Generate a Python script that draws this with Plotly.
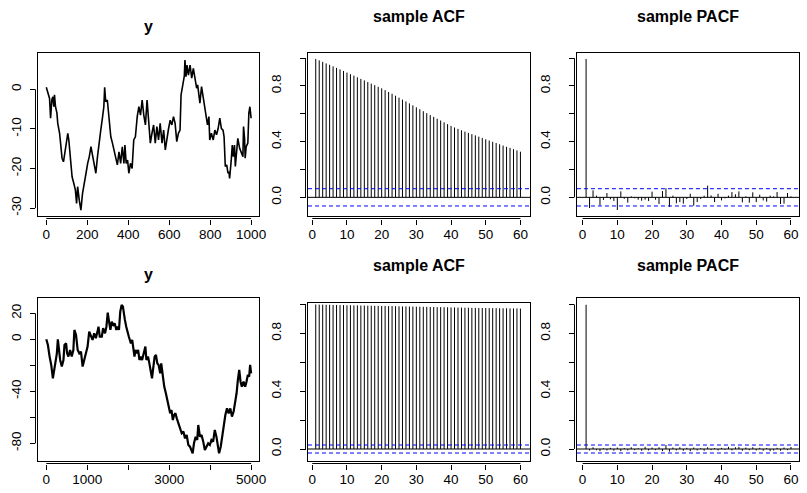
import plotly.graph_objects as go

# ---------------- data ----------------
t1 = [0,8,16,21,27,32,37,40,45,52,
      56,65,73,77,84,90,97,105,110,116,
      126,132,142,148,153,161,169,177,185,194,
      202,210,218,226,234,242,250,258,266,274,
      281,285,290,298,306,315,323,331,339,347,
      355,363,371,379,384,390,397,403,411,419,
      427,435,444,452,460,468,476,484,492,500,
      508,516,524,532,540,548,556,565,573,581,
      589,597,605,613,621,629,637,645,653,658,
      665,669,674,677,682,687,694,702,710,718,
      726,734,739,745,750,758,766,774,782,787,
      794,798,806,815,823,831,839,847,855,863,
      868,874,881,887,892,895,903,908,913,919,
      923,929,935,944,952,960,963,968,971,976,
      984,989,994,1000]
y1 = [0.5,-1,-2.3,-7.3,-2.7,-1.9,-4.4,-1.4,-4.4,-6,
      -8.6,-11.1,-14.5,-17.4,-18.3,-16.2,-12.8,-11.1,-12.8,-17,
      -22.1,-23.3,-25.4,-28.8,-24.6,-28,-30.5,-26.3,-23.3,-21.2,
      -18.7,-17,-14.5,-16.6,-19.5,-21.2,-17,-12.8,-10.3,-7.3,
      -4.4,0.5,-3.1,-2.7,-6.5,-12,-13.6,-15.3,-17,-19.1,
      -15.8,-18.7,-14.5,-18.7,-14.1,-18.7,-17.9,-21.2,-18.7,-20,
      -12.8,-12,-6.9,-4.4,-6.5,-2.7,-6.5,-9,-2.7,-8.6,
      -13.6,-11.1,-9,-13.6,-9.4,-12.8,-8.6,-13.6,-10.3,-15.3,
      -12,-9.9,-7.8,-9,-6.9,-8.6,-13.2,-11.1,-10.3,-1.4,
      0.7,2.4,3.4,7.4,3.2,6.1,3.6,6.1,2.8,5.3,
      2.4,0.3,1.1,-1.9,-3.5,0.7,-2.3,-5.2,-8.2,-9,
      -6.9,-12.8,-11.1,-12.8,-10.3,-11.5,-9.9,-7.3,-9.9,-10.3,
      -12,-19.5,-19.1,-21.2,-20.8,-22.5,-17.9,-14.1,-17,-14.1,
      -19.5,-16.2,-12.4,-14.9,-16.2,-17,-9.4,-12.4,-17.4,-14.5,
      -13.6,-6,-4.4,-7.3]

t2 = [0,40,81,121,161,185,218,258,282,306,
      339,379,419,444,484,508,540,581,621,661,
      686,726,766,806,847,887,927,968,1008,1048,
      1089,1129,1169,1210,1250,1274,1306,1355,1387,1435,
      1468,1500,1532,1565,1597,1637,1669,1710,1742,1774,
      1806,1839,1871,1895,1919,1952,1984,2016,2040,2065,
      2097,2129,2153,2177,2210,2242,2274,2306,2339,2379,
      2419,2444,2484,2516,2548,2581,2605,2645,2677,2710,
      2742,2782,2806,2839,2879,2919,2960,2992,3024,3056,
      3089,3121,3153,3186,3226,3266,3306,3347,3387,3427,
      3468,3508,3548,3573,3605,3645,3685,3710,3750,3790,
      3831,3871,3911,3952,3992,4032,4073,4113,4153,4194,
      4218,4258,4298,4339,4371,4411,4452,4492,4532,4573,
      4613,4645,4677,4710,4742,4774,4815,4855,4887,4919,
      4952,4976,5000]
y2 = [0,-4.4,-13.3,-19.7,-30,-24.9,-18.5,-10.8,0,-8.2,
      -15.9,-21,-15.9,-4.4,-3.1,-10.8,-13.3,-8.2,-13.3,-8.2,
      7.2,3.3,-8.2,-10.8,-9.5,-21,-15.9,-10.8,-5.6,5.9,
      3.3,-0.5,4.6,0.8,5.9,9.7,2,2,8.5,4.6,
      9.7,20.5,13.6,7.2,13.6,11,12.3,7.2,9.7,7.2,
      21.3,26.4,25.1,18.7,14.9,9.7,4.6,2,-0.5,-3.1,
      -0.5,-8.2,-13.3,-8.2,-10.8,-8.2,-15.9,-13.3,-15.9,-10.8,
      -5.6,-15.9,-13.3,-18.5,-26.2,-30,-23.6,-13.3,-12,-18.5,
      -19.7,-26.2,-18.5,-27.4,-36.4,-41.5,-46.7,-51.8,-56.9,-54.4,
      -62.1,-58.2,-56.9,-60.8,-64.6,-67.2,-72.3,-71,-76.2,-73.6,
      -81.3,-82.6,-85.1,-87.7,-80,-74.9,-77.4,-65.9,-74.9,-73.6,
      -78.7,-85.1,-82.6,-80,-81.3,-77.4,-78.7,-69.7,-74.9,-85.1,
      -87.7,-82.6,-73.6,-67.2,-58.2,-53.1,-56.9,-53.1,-59.5,-55.6,
      -49.2,-41.5,-31.3,-23.6,-32.6,-36.4,-32.6,-36.4,-32.6,-27.4,
      -28.7,-19.7,-26.2]

lags = list(range(1, 61))
acf1 = [0.994,0.984,0.973,0.962,0.952,0.941,0.930,0.919,0.908,0.896,
        0.885,0.874,0.862,0.851,0.840,0.828,0.817,0.806,0.794,0.783,
        0.770,0.757,0.744,0.730,0.716,0.702,0.689,0.675,0.661,0.647,
        0.633,0.619,0.605,0.591,0.578,0.565,0.552,0.539,0.526,0.513,
        0.502,0.492,0.482,0.472,0.463,0.454,0.445,0.436,0.427,0.417,
        0.408,0.399,0.390,0.381,0.372,0.363,0.355,0.346,0.337,0.328]
pacf1 = [0.994,-0.077,0.05,0.012,-0.057,-0.019,0.031,-0.014,-0.026,-0.091,
         0.043,-0.01,-0.038,0.007,-0.007,-0.017,-0.024,-0.017,-0.026,0.041,
         -0.017,-0.048,0.045,0.065,-0.069,0.012,-0.043,-0.034,-0.045,-0.012,
         0.026,-0.06,-0.034,-0.012,0.012,0.084,0.014,-0.034,0.026,-0.022,
         -0.007,0.012,0.038,0.022,0.043,-0.036,0.007,-0.038,0.036,-0.034,
         0.019,-0.022,-0.031,0.012,0.007,0.038,-0.048,-0.045,0.031,0.007]
acf2 = [0.999,0.998,0.998,0.997,0.997,0.996,0.996,0.995,0.995,0.994,
        0.994,0.993,0.993,0.992,0.992,0.991,0.991,0.990,0.990,0.989,
        0.989,0.988,0.988,0.987,0.987,0.986,0.986,0.985,0.985,0.984,
        0.984,0.983,0.983,0.982,0.982,0.981,0.981,0.980,0.980,0.979,
        0.979,0.978,0.978,0.977,0.977,0.976,0.976,0.975,0.975,0.975,
        0.974,0.974,0.974,0.973,0.973,0.973,0.972,0.972,0.972,0.971]
pacf2 = [0.998,-0.01,0.012,-0.008,-0.015,0.005,-0.01,0.008,-0.012,0.01,
         -0.015,0.006,-0.01,0.012,-0.008,0.005,-0.012,0.015,-0.01,0.01,
         -0.008,0.012,-0.015,0.028,-0.018,0.01,-0.01,0.012,-0.012,0.008,
         -0.015,0.01,-0.01,0.005,-0.012,0.012,-0.008,0.006,-0.01,0.008,
         -0.006,0.015,-0.01,0.012,0.015,-0.012,0.01,-0.008,0.012,-0.01,
         0.008,-0.012,0.006,-0.015,-0.01,0.008,-0.012,0.01,-0.008,0.014]
ci1 = 0.062
ci2 = 0.0277

titles = ["y", "sample ACF", "sample PACF", "y", "sample ACF", "sample PACF"]

lag_ticks = [0, 10, 20, 30, 40, 50, 60]
cor_ticks = [0.0, 0.2, 0.4, 0.6, 0.8, 1.0]
cor_text = ["0.0", "", "0.4", "", "0.8", ""]
x1_ticks = [0, 200, 400, 600, 800, 1000]
y1_ticks = [-30, -20, -10, 0]
x2_ticks = [0, 1000, 2000, 3000, 4000, 5000]
x2_text = ["0", "1000", "", "3000", "", "5000"]
y2_ticks = [-80, -60, -40, -20, 0, 20]
y2_text = ["-80", "", "-40", "", "0", "20"]

# ---------------- layout geometry (pixels) ----------------
W, H = 807, 493
FONT = "Liberation Sans, Arial, Helvetica, sans-serif"
panels = [
    dict(x0=38.3, x1=261.7, y0=52.7, y1=216, xr=[-40.6, 1040.6], yr=[-32.0, 9.25],
         xt=x1_ticks, xtt=[str(v) for v in x1_ticks], yt=y1_ticks, ytt=[str(v) for v in y1_ticks],
         ty=27, ys=4),
    dict(x0=310.7, x1=535, y0=52.7, y1=216, xr=[-1.23, 62.86], yr=[-0.134, 1.039],
         xt=lag_ticks, xtt=[str(v) for v in lag_ticks], yt=cor_ticks, ytt=cor_text, ty=16.7, ys=14),
    dict(x0=582, x1=806.3, y0=52.7, y1=216, xr=[-1.63, 62.4], yr=[-0.134, 1.039],
         xt=lag_ticks, xtt=[str(v) for v in lag_ticks], yt=cor_ticks, ytt=cor_text, ty=16.7, ys=14),
    dict(x0=38.3, x1=261.7, y0=297.7, y1=461, xr=[-203, 5203], yr=[-93.6, 32.0],
         xt=x2_ticks, xtt=x2_text, yt=y2_ticks, ytt=y2_text, ty=274, ys=4),
    dict(x0=310.7, x1=535, y0=303.3, y1=461, xr=[-1.23, 62.86], yr=[-0.083, 1.0075],
         xt=lag_ticks, xtt=[str(v) for v in lag_ticks], yt=cor_ticks, ytt=cor_text, ty=265.5, ys=14),
    dict(x0=582, x1=806.3, y0=297.7, y1=461, xr=[-1.63, 62.4], yr=[-0.083, 1.047],
         xt=lag_ticks, xtt=[str(v) for v in lag_ticks], yt=cor_ticks, ytt=cor_text, ty=265.5, ys=14),
]
GAP = 2.5

fig = go.Figure()


def sid(i):
    return "" if i == 1 else str(i)


def stems(lg, vals):
    xs, ys = [], []
    for l, v in zip(lg, vals):
        xs += [l, l, None]
        ys += [0, v, None]
    return xs, ys


# series
fig.add_trace(go.Scatter(x=t1, y=y1, mode="lines", line=dict(color="black", width=1.6),
                         xaxis="x", yaxis="y", hoverinfo="skip", showlegend=False))
fig.add_trace(go.Scatter(x=t2, y=y2, mode="lines", line=dict(color="black", width=2.2),
                         xaxis="x4", yaxis="y4", hoverinfo="skip", showlegend=False))
for i, vals in [(2, acf1), (3, pacf1), (5, acf2), (6, pacf2)]:
    xs, ys = stems(lags, vals)
    fig.add_trace(go.Scatter(x=xs, y=ys, mode="lines", line=dict(color="black", width=1),
                             xaxis="x" + str(i), yaxis="y" + str(i), hoverinfo="skip",
                             showlegend=False))
# empty traces that register the R-style tick axes as subplots
for i in range(1, 7):
    j = str(i + 6)
    fig.add_trace(go.Scatter(x=[], y=[], mode="lines", xaxis="x" + j, yaxis="y" + j,
                             hoverinfo="skip", showlegend=False))

shapes = []
annotations = []
layout = dict(width=W, height=H, margin=dict(l=0, r=0, t=0, b=0),
              paper_bgcolor="white", plot_bgcolor="white", showlegend=False,
              font=dict(family=FONT, color="black", size=13.5))

for i, p in enumerate(panels, start=1):
    k = sid(i)
    xd = [p["x0"] / W, p["x1"] / W]
    yd = [1 - p["y1"] / H, 1 - p["y0"] / H]
    base = dict(showline=True, mirror=True, linecolor="black", linewidth=1, ticks="",
                showticklabels=False, showgrid=False, zeroline=False, fixedrange=True)
    layout["xaxis" + k] = dict(domain=xd, range=p["xr"], anchor="y" + k, **base)
    layout["yaxis" + k] = dict(domain=yd, range=p["yr"], anchor="x" + k, **base)
    j = str(i + 6)
    xpos = 1 - (p["y1"] + GAP) / H
    ypos = (p["x0"] - GAP) / W
    tick = dict(ticks="outside", ticklen=5.5, tickwidth=1, tickcolor="black",
                showline=False, showgrid=False, zeroline=False, fixedrange=True,
                showticklabels=True, tickfont=dict(family=FONT, size=13.5, color="black"))
    layout["xaxis" + j] = dict(overlaying="x" + k, anchor="free", position=xpos, domain=xd,
                               range=p["xr"], tickmode="array", tickvals=p["xt"],
                               ticktext=p["xtt"], side="bottom", ticklabelstandoff=-2, **tick)
    layout["yaxis" + j] = dict(overlaying="y" + k, anchor="free", position=ypos, domain=yd,
                               range=p["yr"], tickmode="array", tickvals=p["yt"],
                               ticktext=p["ytt"], side="left", tickangle=-90,
                               ticklabelstandoff=p["ys"], **tick)
    # axis lines spanning first..last tick (R style)
    shapes.append(dict(type="line", xref="x" + k, yref="paper", x0=p["xt"][0], x1=p["xt"][-1],
                       y0=xpos, y1=xpos, line=dict(color="black", width=1)))
    shapes.append(dict(type="line", xref="paper", yref="y" + k, x0=ypos, x1=ypos,
                       y0=p["yt"][0], y1=p["yt"][-1], line=dict(color="black", width=1)))
    annotations.append(dict(text="<b>%s</b>" % titles[i - 1], xref="paper", yref="paper",
                            x=(p["x0"] + p["x1"]) / 2 / W, y=1 - p["ty"] / H,
                            xanchor="center", yanchor="middle", showarrow=False,
                            font=dict(family=FONT, size=16, color="black")))

# zero and confidence lines in ACF/PACF panels
for i, ci in [(2, ci1), (3, ci1), (5, ci2), (6, ci2)]:
    k = str(i)
    shapes.append(dict(type="line", xref="x%s domain" % k, yref="y" + k, x0=0, x1=1, y0=0, y1=0,
                       line=dict(color="black", width=1)))
    for s in (ci, -ci):
        shapes.append(dict(type="line", xref="x%s domain" % k, yref="y" + k, x0=0, x1=1,
                           y0=s, y1=s, line=dict(color="blue", width=1, dash="4px,3px")))

layout["shapes"] = shapes
layout["annotations"] = annotations
fig.update_layout(**layout)
fig.write_html("out.html", config={"displayModeBar": False},
               post_script="document.body.style.margin='0';document.body.style.overflow='hidden';")
